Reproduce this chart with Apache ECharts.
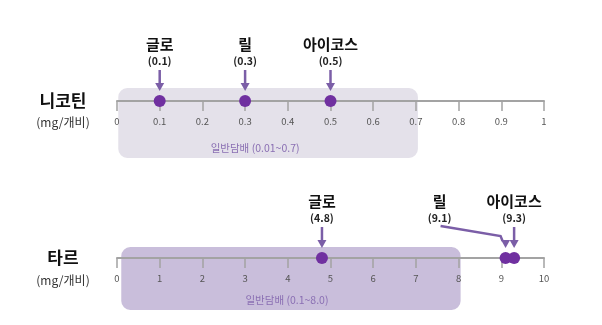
<!DOCTYPE html>
<html>
<head>
<meta charset="utf-8">
<script src="https://cdn.jsdelivr.net/npm/echarts@6/dist/echarts.min.js"></script>
<style>
  html, body { margin: 0; padding: 0; background: #fff; }
  #chart { width: 602px; height: 325px; }
</style>
</head>
<body>
<div id="chart"></div>
<script>
// 니코틴 (mg/개비)
const nicotineProducts = ["글로", "릴", "아이코스"];
const nicotineValues = [0.1, 0.3, 0.5];
const nicotineRange = [0.01, 0.7];
const nicotineAxis = { min: 0, max: 1, interval: 0.1 };

// 타르 (mg/개비)
const tarProducts = ["글로", "릴", "아이코스"];
const tarValues = [4.8, 9.1, 9.3];
const tarRange = [0.1, 8.0];
const tarAxis = { min: 0, max: 10, interval: 1 };

const FONT = "'Noto Sans CJK KR', 'Noto Sans', sans-serif";
const DOT = "#7030a0";
const ARROW = "#7b5ea7";

// label x shift (px) so 릴 (9.1) doesn't collide with 아이코스 (9.3)
const tarLabelShift = [0, -66, 0];

const chart = echarts.init(document.getElementById("chart"));

function makeXAxes(gridIndex, ax) {
  const base = {
    type: "value",
    gridIndex: gridIndex,
    min: ax.min,
    max: ax.max,
    interval: ax.interval,
    position: "bottom",
    splitLine: { show: false },
  };
  return [
    Object.assign({}, base, {
      axisLine: { onZero: true, lineStyle: { color: "#a3a3a3", width: 2 } },
      axisTick: { show: true, length: 6, lineStyle: { color: "#a3a3a3", width: 1.5 } },
      axisLabel: { show: true, margin: 6, color: "#555", fontSize: 9.5, fontFamily: FONT },
    }),
    Object.assign({}, base, {
      axisLine: { onZero: true, show: false },
      axisTick: { show: true, inside: true, length: 6, lineStyle: { color: "#a3a3a3", width: 1.5 } },
      axisLabel: { show: false },
    }),
  ];
}

function rangeBox(idx, range, box) {
  return {
    type: "custom",
    xAxisIndex: idx * 2,
    yAxisIndex: idx,
    z: -1,
    silent: true,
    data: [range],
    renderItem: function (params, api) {
      const p0 = api.coord([api.value(0), 0]);
      const p1 = api.coord([api.value(1), 0]);
      const x0 = p0[0] - box.pad;
      const x1 = p1[0] + 2;
      return {
        type: "group",
        children: [
          {
            type: "rect",
            shape: { x: x0, y: p0[1] - box.top, width: x1 - x0, height: box.top + box.bottom, r: 9 },
            style: { fill: box.color },
          },
          {
            type: "text",
            style: {
              x: (x0 + x1) / 2 + box.textShift,
              y: p0[1] + box.bottom - 10,
              text: box.label,
              fill: "#8a6fb3",
              fontSize: 10.5,
              fontFamily: FONT,
              textAlign: "center",
              textVerticalAlign: "middle",
            },
          },
        ],
      };
    },
  };
}

function markers(idx, names, values, shifts) {
  return {
    type: "custom",
    xAxisIndex: idx * 2,
    yAxisIndex: idx,
    z: 5,
    data: values.map((v, i) => [v, i]),
    renderItem: function (params, api) {
      const i = api.value(1);
      const p = api.coord([api.value(0), 0]);
      const sh = shifts ? shifts[i] : 0;
      const lx = p[0] + sh;
      const children = [];
      if (sh === 0) {
        children.push({
          type: "line",
          shape: { x1: p[0], y1: p[1] - 31, x2: p[0], y2: p[1] - 17 },
          style: { stroke: ARROW, lineWidth: 2.5 },
        });
      } else {
        children.push({
          type: "polyline",
          shape: { points: [[lx + 1, p[1] - 32], [p[0] - 5, p[1] - 22], [p[0] - 3, p[1] - 17]] },
          style: { stroke: ARROW, lineWidth: 2.5, fill: null },
        });
      }
      children.push({
        type: "polygon",
        shape: { points: [[p[0] - 4.5, p[1] - 18], [p[0] + 4.5, p[1] - 18], [p[0], p[1] - 10]] },
        style: { fill: ARROW },
      });
      children.push({
        type: "circle",
        shape: { cx: p[0], cy: p[1], r: 6 },
        style: { fill: DOT },
      });
      children.push({
        type: "text",
        style: {
          x: lx, y: p[1] - 57, text: names[i],
          fill: "#111", fontSize: 15, fontWeight: "bold", fontFamily: FONT,
          textAlign: "center", textVerticalAlign: "middle",
        },
      });
      children.push({
        type: "text",
        style: {
          x: lx, y: p[1] - 40, text: "(" + values[i] + ")",
          fill: "#222", fontSize: 10.5, fontWeight: "bold", fontFamily: FONT,
          textAlign: "center", textVerticalAlign: "middle",
        },
      });
      return { type: "group", children: children };
    },
  };
}

const option = {
  animation: false,
  backgroundColor: "#fff",
  grid: [
    { left: 117, width: 427, top: 91, height: 20 },
    { left: 117, width: 427, top: 248, height: 20 },
  ],
  xAxis: makeXAxes(0, nicotineAxis).concat(makeXAxes(1, tarAxis)),
  yAxis: [
    { type: "value", gridIndex: 0, min: -1, max: 1, show: false },
    { type: "value", gridIndex: 1, min: -1, max: 1, show: false },
  ],
  graphic: [
    { type: "text", x: 63, y: 101, style: { text: "니코틴", fill: "#111", fontSize: 17, fontWeight: "bold", fontFamily: FONT, textAlign: "center", textVerticalAlign: "middle" } },
    { type: "text", x: 63, y: 122, style: { text: "(mg/개비)", fill: "#333", fontSize: 12, fontFamily: FONT, textAlign: "center", textVerticalAlign: "middle" } },
    { type: "text", x: 63, y: 258, style: { text: "타르", fill: "#111", fontSize: 17, fontWeight: "bold", fontFamily: FONT, textAlign: "center", textVerticalAlign: "middle" } },
    { type: "text", x: 63, y: 280, style: { text: "(mg/개비)", fill: "#333", fontSize: 12, fontFamily: FONT, textAlign: "center", textVerticalAlign: "middle" } },
  ],
  series: [
    rangeBox(0, nicotineRange, { top: 13, bottom: 57, pad: 3, color: "#e4e1ea", textShift: -13, label: "일반담배 (0.01~0.7)" }),
    rangeBox(1, tarRange, { top: 11, bottom: 52, pad: 0, color: "#c9bedb", textShift: -4, label: "일반담배 (0.1~8.0)" }),
    markers(0, nicotineProducts, nicotineValues, null),
    markers(1, tarProducts, tarValues, tarLabelShift),
  ],
};

chart.setOption(option);
window.addEventListener("resize", () => chart.resize());
</script>
</body>
</html>
